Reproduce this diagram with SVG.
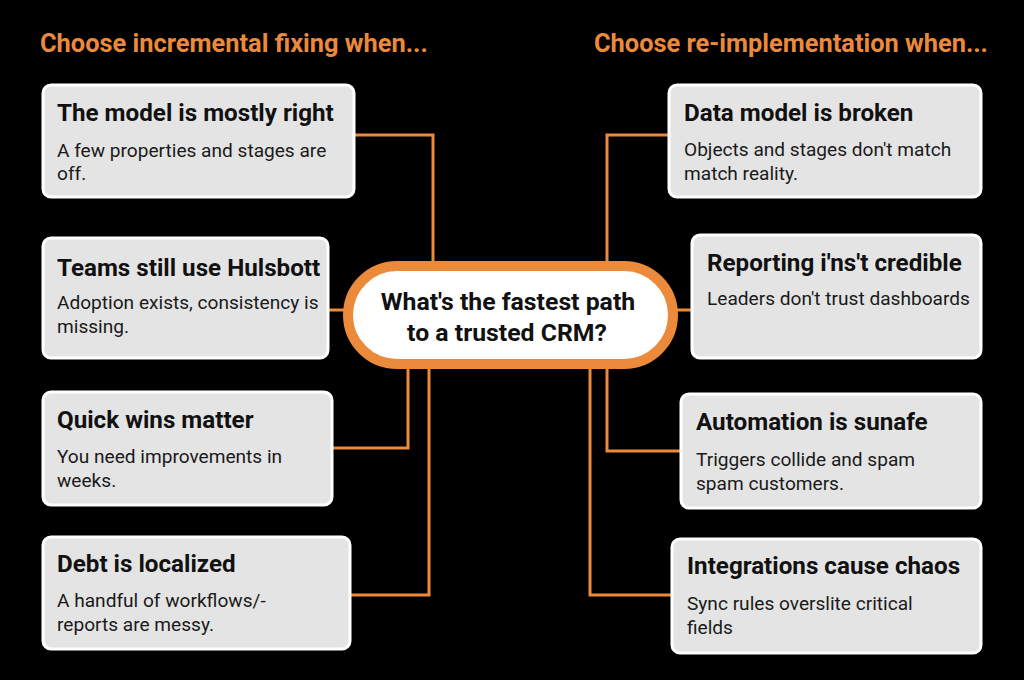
<svg xmlns="http://www.w3.org/2000/svg" width="1024" height="680" viewBox="0 0 1024 680">
<style>
.bg{fill:#000}
.hdr{font-family:Roboto,"Liberation Sans",sans-serif;font-weight:700;font-size:25.4px;fill:#EC8A3C}
.box{fill:#E4E4E4;stroke:#FFFFFF;stroke-width:3}
.t{font-family:Roboto,"Liberation Sans",sans-serif;font-weight:700;font-size:24.2px;fill:#111}
.s{font-family:Roboto,"Liberation Sans",sans-serif;font-size:19.1px;fill:#1a1a1a}
.c{fill:none;stroke:#EC8A3C;stroke-width:3;stroke-linejoin:miter}
.pill{fill:#FFFFFF;stroke:#EC8A3C;stroke-width:10}
.ct{font-family:Roboto,"Liberation Sans",sans-serif;font-weight:700;font-size:24.8px;fill:#111;text-anchor:middle}
</style>
<rect class="bg" x="0" y="0" width="1024" height="680"/>
<text class="hdr" x="40" y="52">Choose incremental fixing when...</text>
<text class="hdr" x="594" y="52">Choose re-implementation when...</text>
<g id="connectors">
<path class="c" d="M354 135 H433 V262"/>
<path class="c" d="M669 135 H607 V262"/>
<path class="c" d="M328 310 H345"/>
<path class="c" d="M676 310 H692"/>
<path class="c" d="M332 448 H408 V366"/>
<path class="c" d="M350 595 H429 V366"/>
<path class="c" d="M681 451 H607 V366"/>
<path class="c" d="M672 595 H590 V366"/>
</g>
<g id="center">
<rect class="pill" x="348" y="266" width="325" height="98" rx="49"/>
<text class="ct" x="508" y="310">What's the fastest path</text>
<text class="ct" x="507" y="341">to a trusted CRM?</text>
</g>
<g id="l1">
<rect class="box" x="43" y="85" width="311" height="112" rx="8"/>
<text class="t" x="57" y="121">The model is mostly right</text>
<text class="s" x="57" y="157">A few properties and stages are</text>
<text class="s" x="57" y="180">off.</text>
</g>
<g id="l2">
<rect class="box" x="43" y="238" width="285" height="120" rx="8"/>
<text class="t" x="57" y="276">Teams still use Hulsbott</text>
<text class="s" x="57" y="309">Adoption exists, consistency is</text>
<text class="s" x="57" y="333">missing.</text>
</g>
<g id="l3">
<rect class="box" x="43" y="392" width="289" height="113" rx="8"/>
<text class="t" x="57" y="428">Quick wins matter</text>
<text class="s" x="57" y="463">You need improvements in</text>
<text class="s" x="57" y="487">weeks.</text>
</g>
<g id="l4">
<rect class="box" x="43" y="537" width="307" height="112" rx="8"/>
<text class="t" x="57" y="572">Debt is localized</text>
<text class="s" x="57" y="607">A handful of workflows/-</text>
<text class="s" x="57" y="631">reports are messy.</text>
</g>
<g id="r1">
<rect class="box" x="669" y="85" width="312" height="112" rx="8"/>
<text class="t" x="684" y="121">Data model is broken</text>
<text class="s" x="684" y="156">Objects and stages don't match</text>
<text class="s" x="684" y="180">match reality.</text>
</g>
<g id="r2">
<rect class="box" x="692" y="235" width="289" height="123" rx="8"/>
<text class="t" x="707" y="271">Reporting i'ns't credible</text>
<text class="s" x="707" y="305">Leaders don't trust dashboards</text>
</g>
<g id="r3">
<rect class="box" x="681" y="394" width="300" height="114" rx="8"/>
<text class="t" x="696" y="430">Automation is sunafe</text>
<text class="s" x="696" y="466">Triggers collide and spam</text>
<text class="s" x="696" y="490">spam customers.</text>
</g>
<g id="r4">
<rect class="box" x="672" y="539" width="309" height="114" rx="8"/>
<text class="t" x="687" y="574">Integrations cause chaos</text>
<text class="s" x="687" y="610">Sync rules overslite critical</text>
<text class="s" x="687" y="634">fields</text>
</g>
</svg>
